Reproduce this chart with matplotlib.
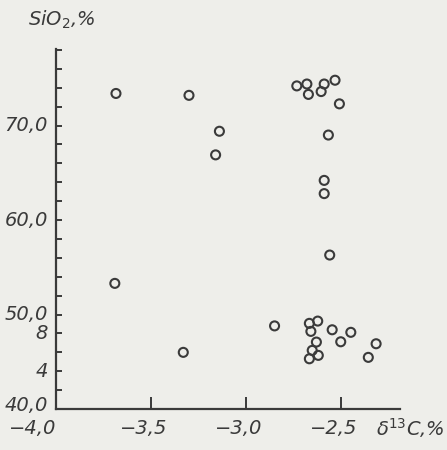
import matplotlib
matplotlib.use("Agg")
import matplotlib.pyplot as plt

# delta 13C (permil) and SiO2 (%)
d13c = [-3.684, -3.30, -3.14, -3.16, -3.69, -3.33, -2.85,
        -2.733, -2.68, -2.672, -2.589, -2.605, -2.532, -2.509, -2.567, -2.589, -2.589,
        -2.56,
        -2.667, -2.623, -2.659, -2.547, -2.449, -2.630, -2.502, -2.316,
        -2.652, -2.620, -2.667, -2.357]
sio2 = [73.4, 73.2, 69.4, 66.9, 53.3, 46.0, 48.8,
        74.2, 74.4, 73.3, 74.4, 73.6, 74.8, 72.3, 69.0, 64.2, 62.8,
        56.3,
        49.07, 49.31, 48.22, 48.39, 48.12, 47.09, 47.12, 46.91,
        46.21, 45.68, 45.32, 45.47]

xticks = [-3.5, -3.0, -2.5]
xticklabels = ["\u22123,5", "\u22123,0", "\u22122,5"]
yticks_minor = [42, 44, 46, 48, 52, 54, 56, 58, 62, 64, 66, 68, 72, 74, 76, 78]
ylabels_pos = [70, 60, 50, 48, 44, 40]
ylabels_txt = ["70,0", "60,0", "50,0", "8", "4", "40,0"]

bg = "#eeeeea"
ink = "#3a3a3a"
fprops = dict(family="DejaVu Sans", style="italic", color=ink)

fig = plt.figure(figsize=(4.47, 4.5), dpi=100, facecolor=bg)
ax = fig.add_axes([0.125, 0.091, 0.77, 0.80])
ax.set_facecolor(bg)

ax.scatter(d13c, sio2, s=42, facecolors="none", edgecolors=ink, linewidths=1.5, zorder=3)

ax.set_xlim(-4.0, -2.19)
ax.set_ylim(40, 78.1)

for s in ["top", "right"]:
    ax.spines[s].set_visible(False)
for s in ["left", "bottom"]:
    ax.spines[s].set_color(ink)
    ax.spines[s].set_linewidth(1.6)

ax.set_xticks(xticks)
ax.set_xticklabels([])
ax.tick_params(axis="x", direction="in", length=9, width=1.4, color=ink)
ax.set_yticks(yticks_minor + [50, 60, 70])
ax.set_yticklabels([])
ax.tick_params(axis="y", direction="in", length=4.5, width=1.4, color=ink)

# x tick labels (shifted slightly left as in the original)
for xv, lab in zip(xticks, xticklabels):
    ax.annotate(lab, xy=(xv, 0), xycoords=("data", "axes fraction"),
                xytext=(-7, -19), textcoords="offset pixels",
                ha="center", va="center", fontsize=14, **fprops)
ax.annotate("\u22124,0", xy=(-4.0, 0), xycoords=("data", "axes fraction"),
            xytext=(-23, -19), textcoords="offset pixels",
            ha="center", va="center", fontsize=14, **fprops)

# y tick labels
for yv, lab in zip(ylabels_pos, ylabels_txt):
    dy = 4 if yv == 40 else 0
    ax.annotate(lab, xy=(0, yv), xycoords=("axes fraction", "data"),
                xytext=(-8, dy), textcoords="offset pixels",
                ha="right", va="center", fontsize=14, **fprops)

# axis titles
fig.text(0.063, 0.955, "SiO$_2$,%", ha="left", va="center", fontsize=14, **fprops)
fig.text(0.995, 0.048, "\u03b4$^{13}$C,%", ha="right", va="center", fontsize=14, **fprops)

fig.savefig("out.png", dpi=100, facecolor=bg)
